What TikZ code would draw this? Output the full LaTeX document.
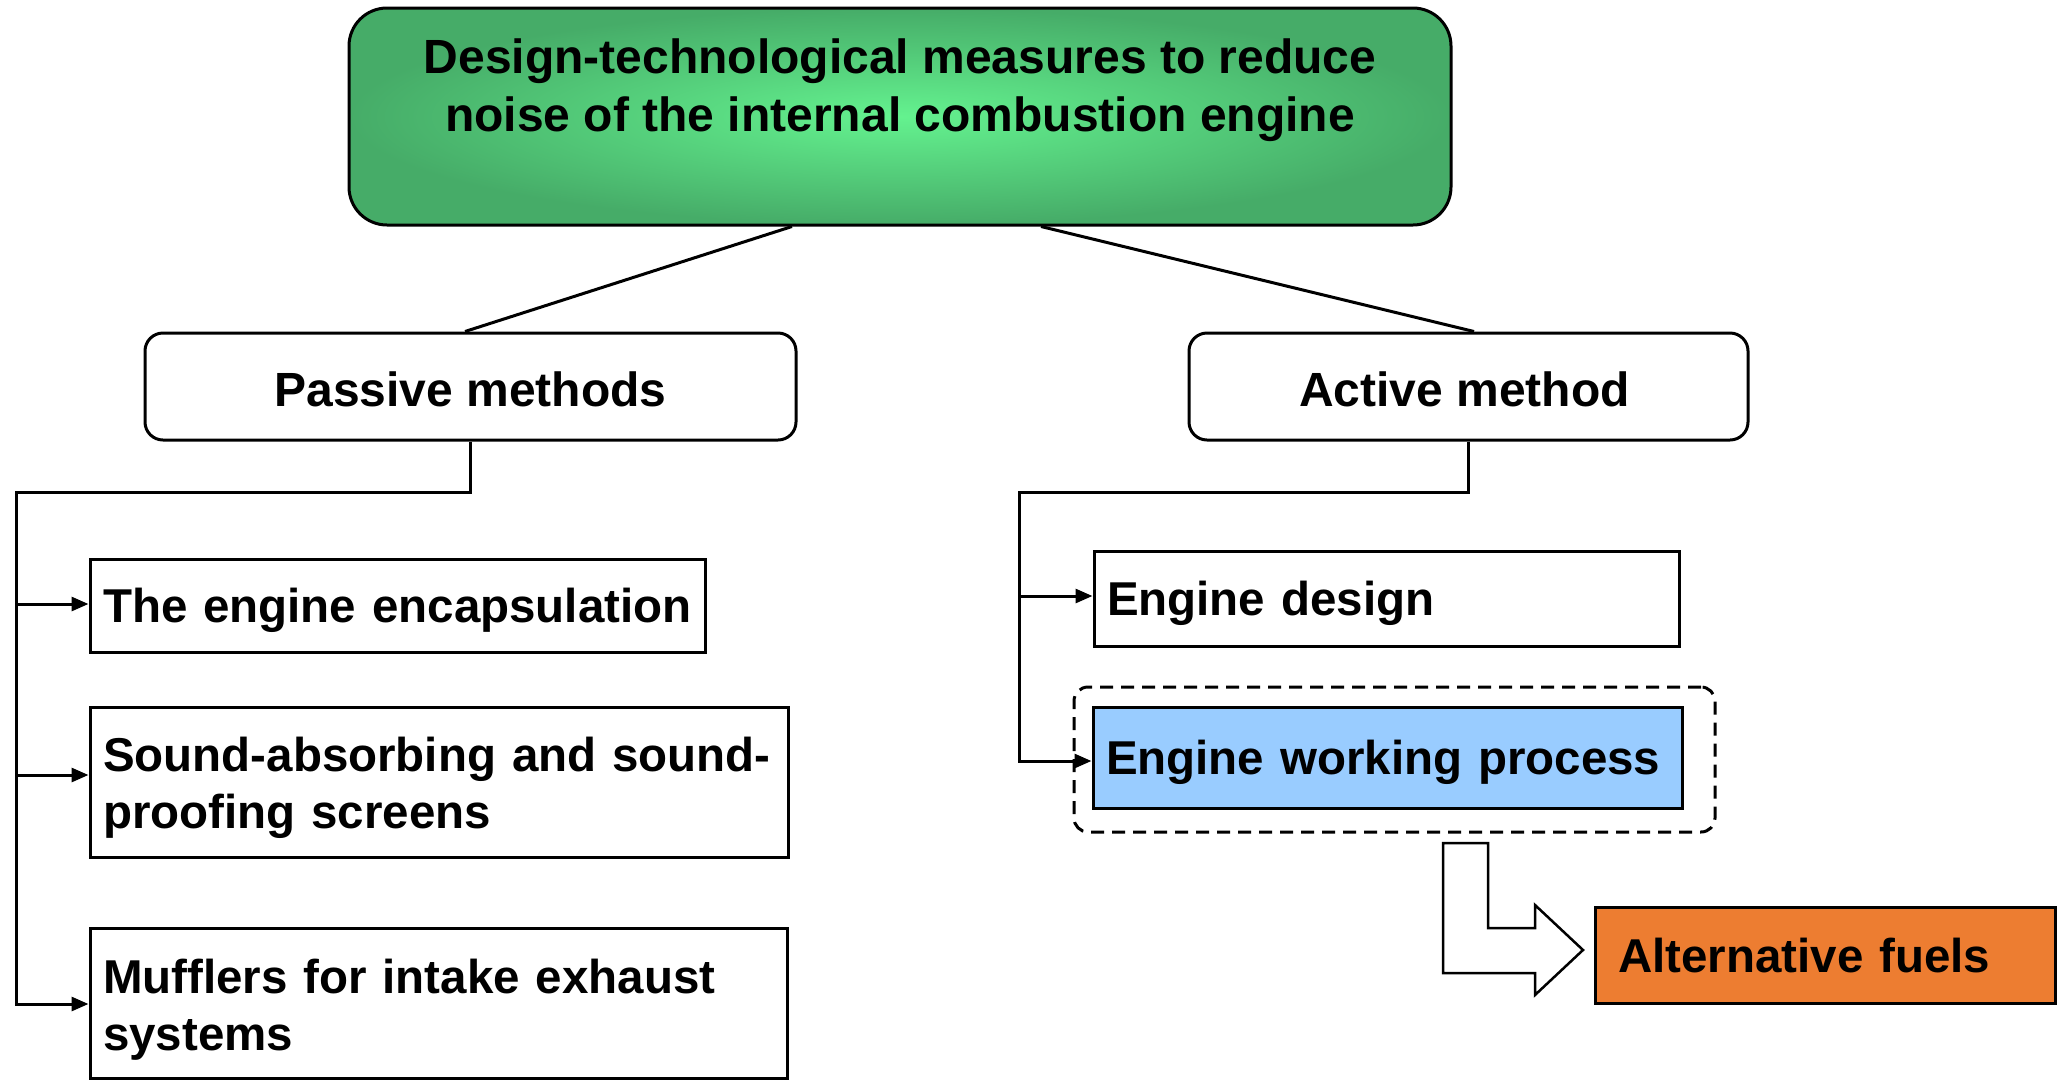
\documentclass[tikz,border=0pt]{standalone}
\usepackage{fontspec}
\setmainfont{Liberation Sans}
\usetikzlibrary{arrows.meta}
\definecolor{gedge}{RGB}{70,172,104}
\definecolor{gcenter}{RGB}{100,242,143}
\definecolor{bluefill}{RGB}{153,204,255}
\definecolor{orangefill}{RGB}{237,125,49}
\begin{document}
\begin{tikzpicture}[x=1pt,y=-1pt,
  txt/.style={font=\fontsize{48}{58}\selectfont\bfseries},
  boxtxt/.style={font=\fontsize{47.5}{57.5}\selectfont\bfseries},
  box/.style={draw, line width=3pt, boxtxt, inner xsep=13pt, inner ysep=0pt, align=left},
  oneline/.style={text height=44pt, text depth=10pt},
  rbox/.style={draw, line width=3pt, rounded corners=18pt, fill=white, txt, text height=50pt, text depth=10pt},
  conn/.style={line width=3pt},
  arr/.style={line width=3pt, -{Triangle[length=17pt,width=14pt]}},
  grpbox/.style={draw, line width=3pt, dash pattern=on 13pt off 8pt, rounded corners=14pt},
  blockarrow/.style={draw, line width=2.5pt, fill=white, line join=miter}
]
\useasboundingbox (0,0) rectangle (2067,1080);

% top box
\node[draw, line width=3pt, rounded corners=38pt, inner color=gcenter, outer color=gedge,
      minimum width=1102pt, minimum height=217pt] (top) at (900,116.5) {};
\node[txt, align=center] (toptext) at (900,90)
  {Design-technological measures to reduce\\noise of the internal combustion engine};

% second level
\node[rbox, minimum width=651pt, minimum height=107pt] (pas) at (470.5,386.5) {Passive methods};
\node[rbox, minimum width=559pt, minimum height=107pt] (act) at (1468.5,386.5) {\hspace*{-8pt}Active method};

\draw[conn] ([xshift=-108pt]top.south) -- ([xshift=-5.5pt]pas.north);
\draw[conn] ([xshift=141pt]top.south) -- ([xshift=5.5pt]act.north);

% passive children
\node[box, oneline, text width=589pt, minimum height=93pt] (enc) at (397.5,605.5) {\mbox{The engine encapsulation}};
\node[box, text width=672pt, minimum height=150pt] (snd) at (439,782)
  {\mbox{\rule{0pt}{46pt}Sound-absorbing and sound-}\\\mbox{proofing screens}};
\node[box, text width=671pt, minimum height=150pt] (muf) at (438.5,1003)
  {\mbox{\rule{0pt}{48pt}Mufflers for intake exhaust}\\\mbox{systems}};

\coordinate (pc) at (16,492);
\coordinate (pe) at (16,1004);
\coordinate (pa1) at (16,604);
\coordinate (pa2) at (16,775);
\draw[arr] (pas.south) |- (pc) -- (pe) -- (pe -| muf.west);
\draw[arr] (pa1) -- (pa1 -| enc.west);
\draw[arr] (pa2) -- (pa2 -| snd.west);

% active children
\node[grpbox, minimum width=641pt, minimum height=145pt] (grp) at (1394.5,759.5) {};
\node[box, oneline, text width=559pt, minimum height=95pt] (eds) at (1386.5,598.5) {\mbox{Engine design}};
\node[box, oneline, fill=bluefill, text width=563pt, minimum height=101pt] (ewp) at (1387.5,757.5) {\mbox{Engine working process}};
\node[box, oneline, fill=orangefill, inner xsep=23pt, text width=414pt, minimum height=96pt] (alt) at (1825,955) {\mbox{Alternative fuels}};

\coordinate (ac) at (1019,492);
\coordinate (ae) at (1019,761);
\coordinate (aa1) at (1019,596);
\draw[arr] (act.south) |- (ac) -- (ae) -- (ae -| ewp.west);
\draw[arr] (aa1) -- (aa1 -| eds.west);

% bent block arrow
\draw[blockarrow] (1443,843) -- (1488,843) -- (1488,928) -- (1535,928) -- (1535,905)
  -- (1583,950) -- (1535,995) -- (1535,973) -- (1443,973) -- cycle;
\end{tikzpicture}
\end{document}
